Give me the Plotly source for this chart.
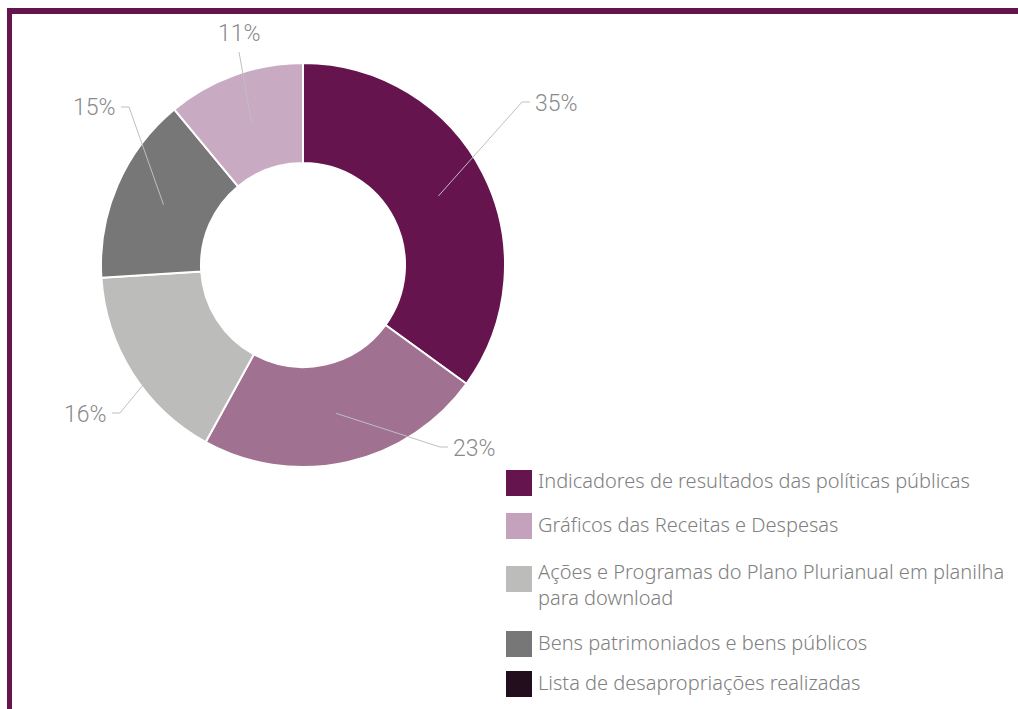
import math
import plotly.graph_objects as go

# Dados do gráfico
slice_labels = [
    "Indicadores de resultados das políticas públicas",
    "Lista de desapropriações realizadas",
    "Ações e Programas do Plano Plurianual em planilha para download",
    "Bens patrimoniados e bens públicos",
    "Gráficos das Receitas e Despesas",
]
slice_values = [35, 23, 16, 15, 11]
slice_colors = ["#65144e", "#a07191", "#bcbcbb", "#777777", "#c8abc2"]

legend_labels = [
    "Indicadores de resultados das políticas públicas",
    "Gráficos das Receitas e Despesas",
    "Ações e Programas do Plano Plurianual em planilha<br>para download",
    "Bens patrimoniados e bens públicos",
    "Lista de desapropriações realizadas",
]
legend_colors = ["#65144e", "#c4a2bb", "#bcbcbb", "#777777", "#220e1d"]

W, H = 1018, 709
FRAME = "#65144e"

# geometria do donut (pixels)
cx, cy, R = 303, 265, 202
HOLE = 0.505
r_mid = R * (1 + HOLE) / 2


def px(x):
    return x / W


def py(y):
    return 1 - y / H


fig = go.Figure()

fig.add_trace(go.Pie(
    labels=slice_labels,
    values=slice_values,
    hole=HOLE,
    sort=False,
    direction="clockwise",
    rotation=0,
    marker=dict(colors=slice_colors, line=dict(color="white", width=2)),
    textinfo="none",
    hoverinfo="label+percent",
    showlegend=False,
    domain=dict(x=[px(cx - R), px(cx + R)], y=[py(cy + R), py(cy - R)]),
))

# posição dos rótulos (cotovelo relativo ao centro, sentido do traço, alinhamento)
label_layout = [
    ((219, -163), 8, "left"),
    ((137, 182), 8, "left"),
    ((-183, 148), -8, "right"),
    ((-174, -158), -8, "right"),
    ((-64, -213), 0, "center"),
]

shapes = []
annotations = []
total = sum(slice_values)
cum = 0
for v, (off, tick, align) in zip(slice_values, label_layout):
    ang = math.radians((cum + v / 2) / total * 360)
    cum += v
    x0 = cx + r_mid * math.sin(ang)
    y0 = cy - r_mid * math.cos(ang)
    ex, ey = cx + off[0], cy + off[1]
    path = f"M {px(x0)} {py(y0)} L {px(ex)} {py(ey)}"
    if tick:
        path += f" L {px(ex + tick)} {py(ey)}"
    shapes.append(dict(type="path", xref="paper", yref="paper", path=path,
                       line=dict(color="#bfbfbf", width=1)))
    if align == "center":
        ann = dict(x=px(ex), y=py(ey - 3), xanchor="center", yanchor="bottom")
    elif align == "left":
        ann = dict(x=px(ex + tick + 3), y=py(ey + 1), xanchor="left", yanchor="middle")
    else:
        ann = dict(x=px(ex + tick - 3), y=py(ey + 1), xanchor="right", yanchor="middle")
    ann.update(text=f"{v}%", showarrow=False, xref="paper", yref="paper",
               font=dict(family="Roboto", size=23, color="#8a8a8a", weight=300))
    annotations.append(ann)

# legenda desenhada à mão (quadrados grandes)
leg_x = 506
leg_rows = [483, 526, 579, 644, 684]
for lab, col, yc in zip(legend_labels, legend_colors, leg_rows):
    shapes.append(dict(type="rect", xref="paper", yref="paper",
                       x0=px(leg_x), x1=px(leg_x + 26), y0=py(yc - 13), y1=py(yc + 13),
                       fillcolor=col, line=dict(width=0)))
    ty = yc - 2 if "<br>" not in lab else yc + 5
    annotations.append(dict(x=px(leg_x + 30), y=py(ty), xanchor="left", yanchor="middle",
                            text=lab, showarrow=False, xref="paper", yref="paper", align="left",
                            font=dict(family="Noto Sans", size=20, color="#808080", weight=300)))

# moldura roxa (topo e esquerda)
shapes.append(dict(type="rect", xref="paper", yref="paper",
                   x0=px(7), x1=px(W), y0=py(14), y1=py(8),
                   fillcolor=FRAME, line=dict(width=0)))
shapes.append(dict(type="rect", xref="paper", yref="paper",
                   x0=px(7), x1=px(12), y0=py(H), y1=py(8),
                   fillcolor=FRAME, line=dict(width=0)))

fig.update_layout(
    width=W, height=H,
    margin=dict(l=0, r=0, t=0, b=0),
    paper_bgcolor="white",
    plot_bgcolor="white",
    shapes=shapes,
    annotations=annotations,
)

fig.write_html("out.html", config={"displayModeBar": False},
               post_script="document.body.style.margin='0';")
